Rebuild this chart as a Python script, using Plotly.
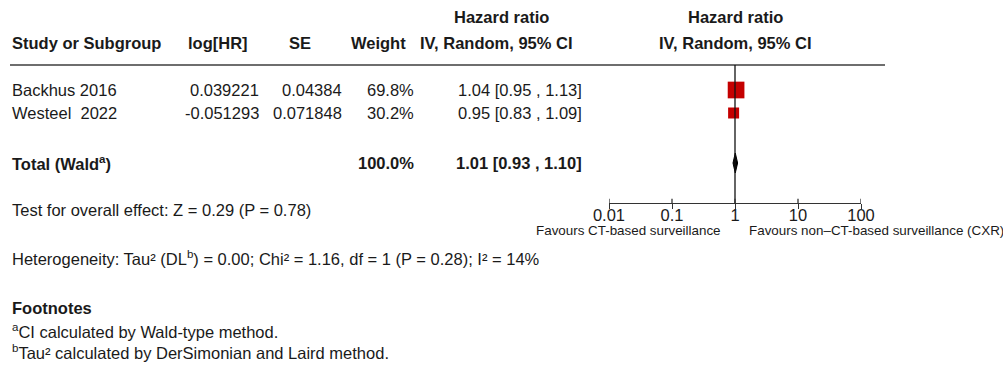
import plotly.graph_objects as go

# ---- data ----
studies = ["Backhus 2016", "Westeel\u00a0 2022"]
log_hr = [0.039221, -0.051293]
se = [0.04384, 0.071848]
weight = [69.8, 30.2]
hr = [1.04, 0.95]
ci_lo = [0.95, 0.83]
ci_hi = [1.13, 1.09]

total_weight = 100.0
total_hr = 1.01
total_lo = 0.93
total_hi = 1.10

tick_vals = [0.01, 0.1, 1, 10, 100]
tick_text = ["0.01", "0.1", "1", "10", "100"]

overall_text = "Test for overall effect: Z = 0.29 (P = 0.78)"
hetero_text = "Heterogeneity: Tau\u00b2 (DL<sup>b</sup>) = 0.00; Chi\u00b2 = 1.16, df = 1 (P = 0.28); I\u00b2 = 14%"
footnotes = ["<sup>a</sup>CI calculated by Wald-type method.",
             "<sup>b</sup>Tau\u00b2 calculated by DerSimonian and Laird method."]
favours_left = "Favours CT-based surveillance"
favours_right = "Favours non\u2013CT-based surveillance (CXR)"

# ---- layout geometry (pixels) ----
W, H = 1003, 367
FONT = "Liberation Sans, Arial, sans-serif"
FS = 16.5
INK = "#1a1a1a"
RED = "#c40000"

row_y = [90, 113]
total_y = 163
axis_y = 203.3
header_line_y = 65
plot_x0, plot_x1 = 609, 861


def px(x):
    return x / W


def py(y):
    return 1 - y / H


annotations = []


def text(x, y, s, anchor="left", bold=False, size=FS):
    annotations.append(dict(
        x=px(x), y=py(y), xref="paper", yref="paper", text=f"<b>{s}</b>" if bold else s,
        showarrow=False, xanchor=anchor, yanchor="middle",
        font=dict(family=FONT, size=size, color=INK)))


# header
text(501, 17, "Hazard ratio", "center", True)
text(735, 17, "Hazard ratio", "center", True)
text(10, 43, "Study or Subgroup", "left", True)
text(218, 43, "log[HR]", "center", True)
text(300, 43, "SE", "center", True)
text(408, 43, "Weight", "right", True)
text(496, 43, "IV, Random, 95% CI", "center", True)
text(735, 43, "IV, Random, 95% CI", "center", True)

# study rows
for i, name in enumerate(studies):
    y = row_y[i]
    text(10, y, name)
    text(261, y, str(log_hr[i]), "right")
    text(344, y, str(se[i]), "right")
    text(416, y, f"{weight[i]:.1f}%", "right")
    text(584, y, f"{hr[i]:.2f} [{ci_lo[i]:.2f} , {ci_hi[i]:.2f}]", "right")

# total row
text(10, total_y, "Total (Wald<sup>a</sup>)", bold=True)
text(416, total_y, f"{total_weight:.1f}%", "right", True)
text(584, total_y, f"{total_hr:.2f} [{total_lo:.2f} , {total_hi:.2f}]", "right", True)

# bottom notes
text(10, 210, overall_text)
text(10, 258, hetero_text)
text(10, 308, "Footnotes", bold=True)
text(10, 331, footnotes[0])
text(10, 352, footnotes[1])
text(723, 230, favours_left, "right", size=13.4)
text(747, 230, favours_right, "left", size=13.4)

fig = go.Figure()

# confidence intervals
ci_x, ci_y = [], []
for i in range(len(studies)):
    ci_x += [ci_lo[i], ci_hi[i], None]
    ci_y += [row_y[i], row_y[i], None]
fig.add_trace(go.Scatter(x=ci_x, y=ci_y, mode="lines",
                         line=dict(color="#000000", width=1.2), hoverinfo="skip"))

# study squares sized by weight
fig.add_trace(go.Scatter(
    x=hr, y=row_y, mode="markers",
    marker=dict(symbol="square", color=RED, opacity=1,
                size=[2.0 * w ** 0.5 for w in weight], line=dict(width=0)),
    hoverinfo="skip"))

# pooled diamond
dh = 10
fig.add_trace(go.Scatter(
    x=[total_lo, total_hr, total_hi, total_hr, total_lo],
    y=[total_y, total_y - dh, total_y, total_y + dh, total_y],
    mode="lines", fill="toself", fillcolor="#000000",
    line=dict(color="#000000", width=1), hoverinfo="skip"))

shapes = [
    # header rule
    dict(type="line", xref="paper", yref="y", x0=px(10), x1=px(885),
         y0=header_line_y, y1=header_line_y, line=dict(color="#6e6e6e", width=2)),
    # line of no effect
    dict(type="line", xref="x", yref="y", x0=1, x1=1,
         y0=header_line_y, y1=axis_y, line=dict(color="#111111", width=1.3)),
]
# upper half of the axis ticks
for tv in tick_vals:
    shapes.append(dict(type="line", xref="x", yref="y", x0=tv, x1=tv,
                       y0=axis_y, y1=axis_y - 4.5, line=dict(color="#333333", width=1.3)))

fig.update_layout(
    width=W, height=H, margin=dict(l=0, r=0, t=0, b=0, autoexpand=False),
    paper_bgcolor="white", plot_bgcolor="rgba(0,0,0,0)",
    showlegend=False, annotations=annotations, shapes=shapes,
    xaxis=dict(type="log", range=[-2, 2], domain=[px(plot_x0), px(plot_x1)],
               anchor="free", position=py(axis_y), automargin=False,
               showline=True, linecolor="#333333", linewidth=1.3,
               ticks="outside", ticklen=4.5, tickwidth=1.3, tickcolor="#333333",
               tickvals=tick_vals, ticktext=tick_text, ticklabelstandoff=-8,
               tickfont=dict(family=FONT, size=FS, color=INK),
               showgrid=False, zeroline=False, fixedrange=True),
    yaxis=dict(range=[H, 0], domain=[0, 1], visible=False, fixedrange=True),
)

fig.write_html("out.html")
